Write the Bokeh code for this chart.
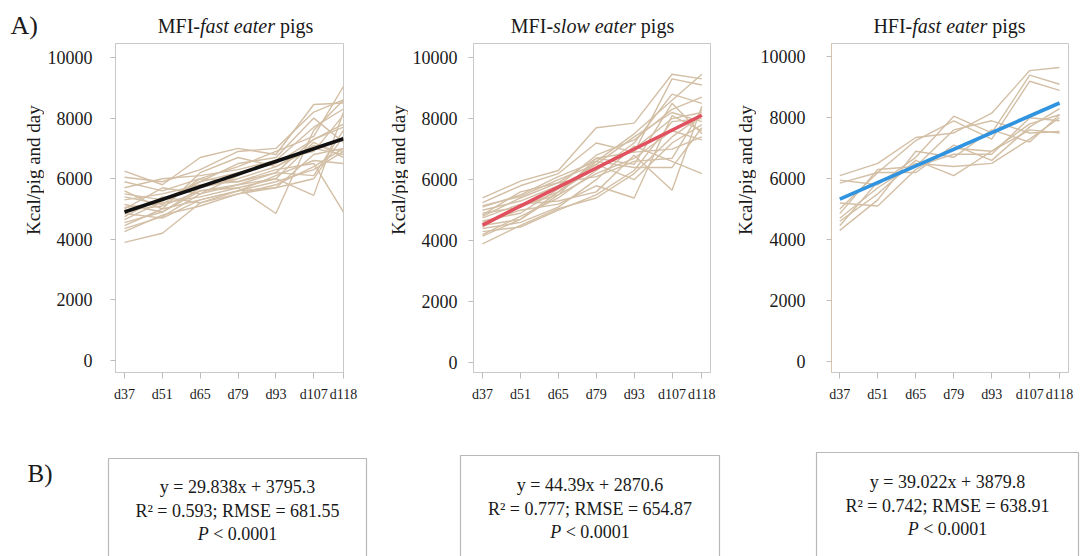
import math
from bokeh.plotting import figure
from bokeh.layouts import row, column
from bokeh.models import Range1d, FixedTicker, Label
from bokeh.core.properties import value
from bokeh.embed import file_html
from bokeh.resources import INLINE

# ---------------- data ----------------
days = [37, 51, 65, 79, 93, 107, 118]
day_labels = ["d37", "d51", "d65", "d79", "d93", "d107", "d118"]
y_ticks = [0, 2000, 4000, 6000, 8000, 10000]

mfi_fast = [
    [6250, 5800, 6700, 7000, 6800, 8450, 8500],
    [6050, 5900, 6300, 6900, 7000, 8200, 8600],
    [5900, 5600, 6000, 6400, 6900, 7400, 9050],
    [5700, 6000, 6100, 6300, 6600, 7700, 8300],
    [5500, 5300, 5900, 6200, 6500, 7300, 7800],
    [5300, 5500, 5800, 5900, 6300, 6500, 4900],
    [5150, 4900, 5700, 6000, 6400, 7000, 6800],
    [5050, 5200, 5400, 5700, 4850, 7600, 8600],
    [4950, 5100, 5600, 5800, 6200, 6100, 7600],
    [4850, 4700, 5300, 5600, 5900, 6300, 6900],
    [4750, 5400, 5200, 5500, 5700, 6800, 7000],
    [4550, 4900, 5600, 5700, 6000, 5450, 8200],
    [4450, 5000, 5300, 5600, 6100, 6600, 6500],
    [4350, 4750, 5500, 5800, 6000, 7200, 6700],
    [4250, 4800, 5100, 5500, 5800, 6400, 7000],
    [3900, 4200, 5200, 5600, 5700, 6000, 7400],
    [5600, 5000, 6200, 6700, 6400, 7100, 6900],
    [4650, 5250, 5900, 6500, 6700, 8000, 7200],
    [5000, 5700, 5500, 6100, 6600, 6900, 8100],
    [5400, 5150, 6000, 5900, 6200, 7300, 7700],
]

mfi_slow = [
    [5400, 5950, 6300, 7700, 7850, 9450, 9300],
    [5250, 5800, 6200, 7200, 6900, 9300, 9100],
    [5100, 5500, 6100, 6600, 7500, 8600, 9450],
    [5000, 5300, 5800, 6800, 7300, 8300, 8700],
    [4900, 5100, 5600, 6400, 7000, 8000, 8200],
    [4800, 5400, 5900, 6700, 6500, 8500, 7500],
    [4750, 5200, 5300, 5600, 6800, 5650, 8400],
    [4650, 4900, 5700, 6500, 6000, 7200, 7800],
    [4600, 5000, 5200, 5800, 5400, 8100, 7600],
    [4500, 4700, 5500, 6200, 6700, 7600, 7300],
    [4400, 4600, 5100, 6000, 7100, 6600, 6200],
    [4300, 4450, 5000, 5500, 6300, 7900, 8000],
    [4200, 4800, 5400, 6300, 7200, 8800, 8500],
    [4150, 4700, 5600, 6600, 6400, 6400, 7700],
    [3900, 4500, 5050, 5400, 6200, 7400, 8100],
    [4850, 5600, 5900, 6100, 6600, 6700, 8300],
    [4450, 5150, 5500, 6700, 6900, 7000, 7400],
    [5150, 5450, 6000, 6500, 7400, 8200, 7900],
]

hfi_fast = [
    [6100, 6500, 7350, 7500, 8150, 9550, 9650],
    [5950, 5800, 6700, 8050, 7500, 9400, 9100],
    [5850, 6200, 7250, 7900, 7300, 9200, 8900],
    [5200, 5100, 6300, 7000, 6900, 7800, 8100],
    [4850, 6300, 6400, 7600, 7900, 7500, 7550],
    [4700, 5700, 6500, 6400, 6500, 7300, 8000],
    [4600, 5500, 6600, 6100, 6900, 7600, 7500],
    [4450, 5900, 6400, 6800, 6800, 8000, 7900],
    [4300, 5300, 6900, 6700, 7600, 7200, 8100],
    [5000, 6200, 6200, 7100, 6600, 7700, 8300],
]

group_names = ["MFI-", "MFI-", "HFI-"]
eater_types = ["fast eater", "slow eater", "fast eater"]
slopes = [29.838, 44.39, 39.022]
intercepts = [3795.3, 2870.6, 3879.8]
r2_values = ["0.593", "0.777", "0.742"]
rmse_values = ["681.55", "654.87", "638.91"]
p_text = "0.0001"
y_label = "Kcal/pig and day"

# ---------------- style ----------------
FONT = "Liberation Serif"
BEIGE = "#d3bfa5"
FRAME = "#c9c9c9"
TICK = "#bdbdbd"
TXT = "#1a1a1a"
fit_colors = ["#111111", "#e0505e", "#2f93e0"]

# Times metrics (Liberation Serif is metric compatible) for composing mixed styles
ROMAN = {" ": 250, "-": 333, "M": 889, "F": 556, "I": 333, "H": 722, "p": 500, "i": 278,
         "g": 500, "s": 389, "<": 564, ".": 250}
ITALIC = {" ": 250, "f": 278, "a": 500, "s": 389, "t": 278, "e": 444, "r": 389, "l": 278,
          "o": 500, "w": 667, "P": 611}


def tw(text, table, size):
    return sum(table.get(c, 500) for c in text) * size / 1000.0


def blank(width, height):
    f = figure(width=width, height=height, x_range=Range1d(0, width),
               y_range=Range1d(height, 0),
               output_backend="svg", toolbar_location=None, min_border=0,
               x_axis_location=None, y_axis_location=None)
    f.xgrid.visible = False
    f.ygrid.visible = False
    f.outline_line_color = None
    f.background_fill_color = "white"
    f.border_fill_color = "white"
    return f


TOP_H = 42
ROW_H = 420 - TOP_H

# ---------------- top strip: A) and panel titles ----------------
top = blank(1084, TOP_H)
title_cx = [235, 592, 949]
title_y = 25
tsize = 20
top.text(x=[10], y=[title_y], text=["A)"], text_align="left", text_baseline="middle",
         text_font=value(FONT), text_font_size=value("26px"), text_color=TXT)
for k in range(3):
    w1 = tw(group_names[k], ROMAN, tsize)
    w2 = tw(eater_types[k], ITALIC, tsize)
    w3 = tw(" pigs", ROMAN, tsize)
    s = title_cx[k] - (w1 + w2 + w3) / 2
    top.text(x=[s, s + w1 + w2 + tw(" ", ROMAN, tsize)], y=[title_y, title_y],
             text=[group_names[k], "pigs"], text_align="left", text_baseline="middle",
             text_font=value(FONT), text_font_size=value(f"{tsize}px"), text_color=TXT)
    top.text(x=[s + w1], y=[title_y], text=[eater_types[k]], text_align="left",
             text_baseline="middle", text_font=value(FONT), text_font_style="italic",
             text_font_size=value(f"{tsize}px"), text_color=TXT)

# ---------------- panels ----------------
panels = [
    dict(strip=44, ylx=33, width=336, bl=71, br=37, xr=(33.67, 118.0), yr=(-396, 10462), so=18,
         axis_col=FRAME),
    dict(strip=28, ylx=17.5, width=326, bl=65, br=24, xr=(33.67, 121.2), yr=(-314, 10458), so=11,
         axis_col=FRAME),
    dict(strip=22, ylx=10.5, width=328, bl=75, br=16, xr=(33.94, 121.3), yr=(-371, 10440), so=21,
         axis_col="#d8c4a8"),
]
ylabel_y = 187.5 - TOP_H
pig_sets = [mfi_fast, mfi_slow, hfi_fast]

row_items = []
for k, cfg in enumerate(panels):
    st = blank(cfg["strip"], ROW_H)
    st.text(x=[cfg["ylx"]], y=[ylabel_y], text=[y_label], angle=math.pi / 2,
            text_align="center", text_baseline="middle", text_font=value(FONT),
            text_font_size=value("19px"), text_color=TXT)
    row_items.append(st)

    p = figure(width=cfg["width"], height=ROW_H, x_range=Range1d(*cfg["xr"]),
               y_range=Range1d(*cfg["yr"]), output_backend="svg", toolbar_location=None,
               min_border_left=cfg["bl"], min_border_right=cfg["br"],
               min_border_top=43 - TOP_H, min_border_bottom=48)
    p.xgrid.visible = False
    p.ygrid.visible = False
    p.outline_line_color = FRAME
    p.background_fill_color = "white"
    p.border_fill_color = "white"

    p.xaxis.ticker = FixedTicker(ticks=days)
    p.xaxis.major_label_overrides = {d: l for d, l in zip(days, day_labels)}
    p.yaxis.ticker = FixedTicker(ticks=y_ticks)
    for ax in (p.xaxis[0], p.yaxis[0]):
        ax.axis_line_color = FRAME
        ax.major_tick_line_color = TICK
        ax.minor_tick_line_color = None
        ax.major_tick_in = 0
        ax.major_label_text_font = FONT
        ax.major_label_text_color = TXT
    p.yaxis[0].axis_line_color = cfg["axis_col"]
    p.yaxis.major_tick_out = 5
    p.xaxis.major_tick_out = 6
    p.yaxis.major_label_text_font_size = "18px"
    p.xaxis.major_label_text_font_size = "14px"
    p.yaxis.major_label_standoff = cfg["so"]
    p.xaxis.major_label_standoff = 8

    pigs = pig_sets[k]
    p.multi_line(xs=[days] * len(pigs), ys=pigs, line_color=BEIGE, line_width=1.4)
    fx = [days[0], days[-1]]
    fy = [slopes[k] * d + intercepts[k] for d in fx]
    p.line(fx, fy, line_color=fit_colors[k], line_width=3.6)
    row_items.append(p)

# ---------------- bottom panel (B) ----------------
pb = blank(1084, 136)
pb.y_range = Range1d(556, 420)

box_left = [108, 460, 816]
box_right = [366, 719, 1078]
box_top = [458, 455, 452]
line_y = [[486, 510, 533], [484, 508, 531], [481, 505, 528]]
pb.quad(left=box_left, right=box_right, top=box_top, bottom=[562, 562, 562],
        fill_color=None, line_color="#b8b8b8", line_width=1.2)

pb.add_layout(Label(x=27, y=473, text="B)", text_align="left", text_baseline="middle",
                    text_font=FONT, text_font_size="25px", text_color=TXT))
fs = 18
for k in range(3):
    cx = (box_left[k] + box_right[k]) / 2
    eq = f"y = {slopes[k]}x + {intercepts[k]}"
    stat = f"R\u00b2 = {r2_values[k]}; RMSE = {rmse_values[k]}"
    for txt, yy in ((eq, line_y[k][0]), (stat, line_y[k][1])):
        pb.add_layout(Label(x=cx, y=yy, text=txt, text_align="center", text_baseline="middle",
                            text_font=FONT, text_font_size=f"{fs}px", text_color=TXT))
    rest = "< " + p_text
    wP = tw("P", ITALIC, fs)
    wr = tw(" " + rest, ROMAN, fs)
    s0 = cx - (wP + wr) / 2
    pb.add_layout(Label(x=s0, y=line_y[k][2], text="P", text_align="left", text_baseline="middle",
                        text_font=FONT, text_font_style="italic", text_font_size=f"{fs}px",
                        text_color=TXT))
    pb.add_layout(Label(x=s0 + wP + tw(" ", ROMAN, fs), y=line_y[k][2], text=rest,
                        text_align="left", text_baseline="middle", text_font=FONT,
                        text_font_size=f"{fs}px", text_color=TXT))

layout = column(top, row(*row_items), pb)
open("out.html", "w").write(file_html(layout, INLINE))
